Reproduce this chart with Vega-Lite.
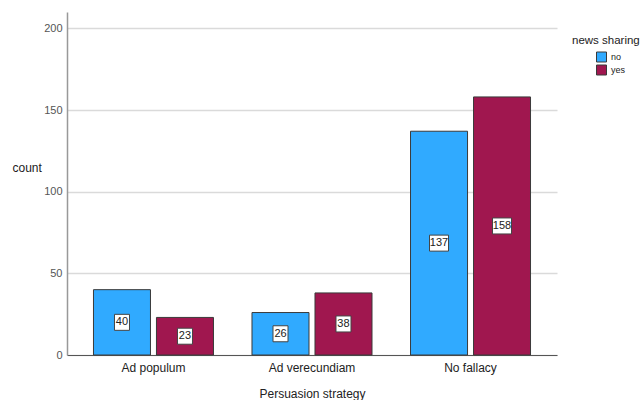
{
  "$schema": "https://vega.github.io/schema/vega-lite/v6.json",
  "width": 490,
  "height": 343,
  "autosize": {"type": "none"},
  "padding": {"left": 67, "top": 12, "right": 83, "bottom": 45},
  "background": "white",
  "config": {
    "view": {"stroke": null},
    "font": "Liberation Sans",
    "axis": {"labelFont": "Liberation Sans", "titleFont": "Liberation Sans", "titleFontWeight": "normal"},
    "legend": {"titleFont": "Liberation Sans", "labelFont": "Liberation Sans"}
  },
  "data": {
    "values": [
      {"strategy": "Ad populum", "sharing": "no", "count": 40},
      {"strategy": "Ad populum", "sharing": "yes", "count": 23},
      {"strategy": "Ad verecundiam", "sharing": "no", "count": 26},
      {"strategy": "Ad verecundiam", "sharing": "yes", "count": 38},
      {"strategy": "No fallacy", "sharing": "no", "count": 137},
      {"strategy": "No fallacy", "sharing": "yes", "count": 158}
    ]
  },
  "layer": [
    {
      "mark": {"type": "bar", "stroke": "#3a3a3a", "strokeWidth": 1},
      "encoding": {
        "x": {
          "field": "strategy", "type": "nominal",
          "scale": {"paddingInner": 0.243, "paddingOuter": 0.167},
          "axis": {
            "title": "Persuasion strategy", "labelAngle": 0, "ticks": false,
            "domainColor": "#555555", "domainWidth": 1,
            "labelFontSize": 12, "labelColor": "#222222", "labelPadding": 7,
            "titleFontSize": 12, "titleColor": "#222222", "titlePadding": 15
          }
        },
        "xOffset": {"field": "sharing", "type": "nominal", "scale": {"paddingInner": 0.095}},
        "y": {
          "field": "count", "type": "quantitative",
          "scale": {"domain": [0, 210], "nice": false},
          "axis": {
            "title": "count", "values": [0, 50, 100, 150, 200], "ticks": false,
            "domainColor": "#999999", "domainWidth": 1.5,
            "gridColor": "#dadada", "gridWidth": 1.5,
            "labelFontSize": 11, "labelColor": "#555555", "labelPadding": 5,
            "titleFontSize": 12, "titleColor": "#222222", "titleAngle": 0,
            "titleAlign": "left", "titleBaseline": "middle", "titleX": -55, "titleY": 155
          }
        },
        "color": {
          "field": "sharing", "type": "nominal",
          "scale": {"domain": ["no", "yes"], "range": ["#30aaff", "#a0174f"]},
          "legend": {
            "title": "news sharing", "orient": "none", "legendX": 505, "legendY": 23,
            "titleFontSize": 11.5, "titleFontWeight": "normal", "titleColor": "#222222", "titlePadding": 5,
            "symbolType": "square", "symbolSize": 100, "symbolStrokeColor": "#3a3a3a", "symbolStrokeWidth": 1,
            "symbolOffset": 24, "labelFontSize": 9, "labelColor": "#222222", "labelOffset": 4, "rowPadding": -3
          }
        }
      }
    },
    {
      "transform": [{"calculate": "datum.count/2", "as": "mid"}],
      "mark": {"type": "point", "filled": false, "fill": "white", "fillOpacity": 1, "stroke": "#444444", "strokeWidth": 1, "opacity": 1, "size": 256},
      "encoding": {
        "x": {"field": "strategy", "type": "nominal", "title": "Persuasion strategy"},
        "xOffset": {"field": "sharing", "type": "nominal"},
        "y": {"field": "mid", "type": "quantitative", "title": "count"},
        "shape": {
          "condition": {"test": "datum.count >= 100", "value": "M-1.1875,-1H1.1875V1H-1.1875Z"},
          "value": "M-0.9375,-1H0.9375V1H-0.9375Z"
        }
      }
    },
    {
      "transform": [{"calculate": "datum.count/2", "as": "mid"}],
      "mark": {"type": "text", "fontSize": 11, "color": "#222222", "baseline": "middle", "align": "center"},
      "encoding": {
        "x": {"field": "strategy", "type": "nominal", "title": "Persuasion strategy"},
        "xOffset": {"field": "sharing", "type": "nominal"},
        "y": {"field": "mid", "type": "quantitative", "title": "count"},
        "text": {"field": "count", "type": "quantitative"}
      }
    }
  ]
}
